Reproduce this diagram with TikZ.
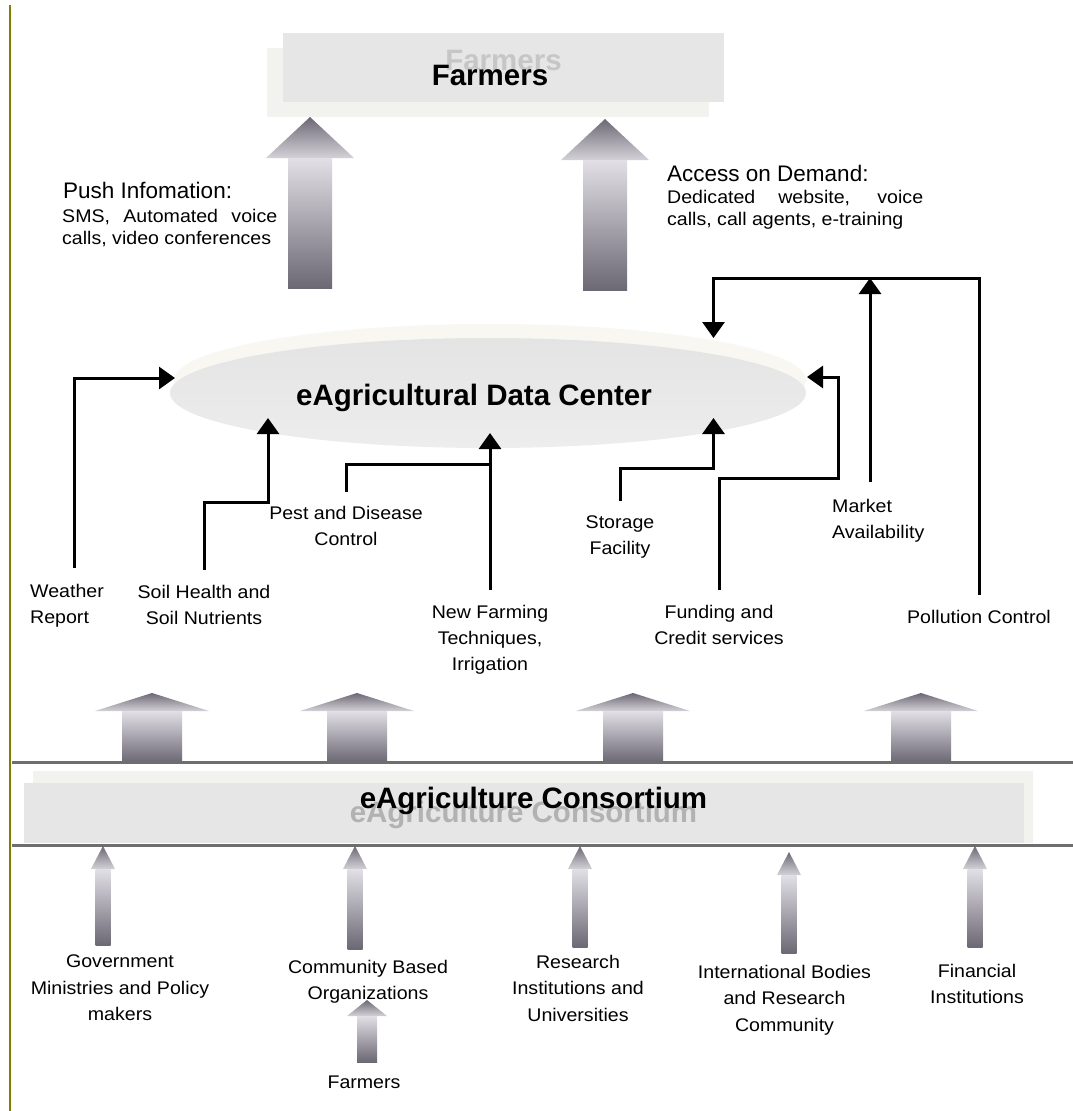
\documentclass[tikz,border=0pt]{standalone}
\usepackage{fontspec}
\setmainfont{Liberation Sans}
\newfontfamily\labfont{Liberation Sans}[FakeStretch=1.07]
\usetikzlibrary{arrows.meta,shapes.geometric}
\definecolor{olivel}{RGB}{128,128,0}
\definecolor{arrdark}{RGB}{108,104,116}
\definecolor{arrlight}{RGB}{226,224,230}
\definecolor{arrhead}{RGB}{212,210,216}
\definecolor{boxgray}{RGB}{230,230,230}
\definecolor{boxlight}{RGB}{242,243,239}
\definecolor{ellcream}{RGB}{249,247,242}
\definecolor{elltop}{RGB}{228,228,228}
\definecolor{ellbot}{RGB}{237,237,237}
\definecolor{rulegray}{RGB}{110,110,110}
% block arrow: x, tip y, head-base y, bottom y, head half width, shaft half width
\newcommand{\blkarrow}[6]{%
  \shade[top color=arrdark, bottom color=arrhead] (#1,-#2) -- (#1+#5,-#3) -- (#1-#5,-#3) -- cycle;
  \shade[top color=arrlight, middle color=white, bottom color=arrdark] (#1-#6,-#3) rectangle (#1+#6,-#4);
}
\begin{document}
\begin{tikzpicture}[x=1pt,y=1pt,
  conn/.style={line width=3pt, black, -{Triangle[length=16pt,width=22pt]}},
  title/.style={font=\fontsize{29.5}{34}\selectfont\bfseries, inner sep=0pt, anchor=base},
  ghost/.style={title, text=gray!45},
  headtxt/.style={font=\fontsize{22.5}{26}\selectfont, inner sep=0pt, anchor=base west},
  subtxt/.style={font={\labfont\fontsize{18.3}{22.5}\selectfont}, inner sep=0pt, anchor=north west, align=justify},
  lab/.style={font={\labfont\fontsize{18.3}{26}\selectfont}, inner sep=0pt, align=center, anchor=north},
  box/.style={inner sep=0pt, draw=none},
]
\useasboundingbox (0,0) rectangle (1073,-1111);
\fill[white] (0,0) rectangle (1073,-1111);

% left olive rule
\draw[olivel, line width=1.5pt] (10,-5) -- (10,-1111);

% ---------- Farmers (top) ----------
\node[box, fill=boxlight, minimum width=442pt, minimum height=69pt] (farmersBack) at (488,-82.5) {};
\node[box, fill=boxgray, minimum width=441pt, minimum height=69pt] (farmersBox) at (503.5,-67.5) {};
\node[ghost] (farmersGhost) at (503.5,-70) {Farmers};
\node[title] (farmersTop) at (490,-85.5) {Farmers};

% big up arrows to Farmers
\blkarrow{310}{117}{158}{288}{44}{22}
\blkarrow{605}{119}{160}{290}{44}{22}

\node[headtxt] (pushHead) at (63,-198) {Push Infomation:};
\node[subtxt, text width=215pt] (pushSub) at (62,-209) {SMS, Automated voice calls, video conferences};
\node[headtxt] (accHead) at (667,-181) {Access on Demand:};
\node[subtxt, text width=256pt] (accSub) at (667,-190) {Dedicated website, voice calls, call agents, e-training};

% ---------- Data center ----------
\node[ellipse, inner sep=0pt, minimum width=632pt, minimum height=112pt, fill=ellcream] (dcBack) at (490,-380) {};
\node[ellipse, inner sep=0pt, minimum width=636pt, minimum height=110pt, top color=elltop, bottom color=ellbot] (dc) at (488,-393) {};
\node[title] (dcText) at (474,-405) {eAgricultural Data Center};

\coordinate (dcW) at (175,-378);
\coordinate (dcS) at (268,-418);
\coordinate (pestJ) at (490,-464);
\coordinate (dcN) at (490,-433);
\coordinate (dcSt) at (713.5,-418);
\coordinate (dcF) at (807,-377);
\coordinate (mktJ) at (870,-278);
\coordinate (dcP) at (713.5,-338);

% labels (middle)
\node[lab, anchor=north west, align=left] (weather) at (30,-584) {Weather\\Report};
\node[lab] (soil) at (204,-585) {Soil Health and\\Soil Nutrients};
\node[lab] (pest) at (346,-506) {Pest and Disease\\Control};
\node[lab] (newfarm) at (490,-605) {New Farming\\Techniques,\\Irrigation};
\node[lab] (storage) at (620,-516) {Storage\\Facility};
\node[lab] (funding) at (719,-605) {Funding and\\Credit services};
\node[lab, anchor=north west, align=left] (market) at (832,-499) {Market\\Availability};
\node[lab] (pollution) at (979,-610) {Pollution Control};

% connectors
\draw[conn] ([xshift=44pt,yshift=16pt]weather.north west) |- (dcW);
\draw[conn] ([yshift=15pt]soil.north) -- ++(0,68) -| (dcS);
\draw[line width=3pt] ([yshift=14pt]pest.north) |- (pestJ);
\draw[conn] ([yshift=15pt]newfarm.north) -- (dcN);
\draw[conn] ([yshift=15pt]storage.north) -- ++(0,33) -| (dcSt);
\draw[conn] ([yshift=15pt]funding.north) -- ++(0,112) -- ++(119.5,0) -- ++(0,101) -- (dcF);
\draw[conn] ([xshift=38pt,yshift=17pt]market.north west) -- (mktJ);
\draw[conn] ([yshift=15pt]pollution.north) -- ++(0,317) -- ++(-265.5,0) -- (dcP);

% block arrows to data layer
\blkarrow{152}{693}{711}{762}{57}{30}
\blkarrow{357}{693}{711}{762}{57}{30}
\blkarrow{633}{693}{711}{762}{57}{30}
\blkarrow{921}{693}{711}{762}{57}{30}

% ---------- Consortium ----------
\node[box, fill=boxlight, minimum width=1000pt, minimum height=72pt] (consBack) at (533,-807) {};
\node[box, fill=boxgray, minimum width=1000pt, minimum height=60pt] (consBox) at (524,-813) {};
\node[ghost, text=gray!60] (consGhost) at (523.5,-822) {eAgriculture Consortium};
\node[title] (consText) at (533.5,-808) {eAgriculture Consortium};
\draw[rulegray, line width=3pt] (12,-762) -- (1073,-762);
\draw[rulegray, line width=3pt] (12,-845) -- (1073,-845);

% bottom arrows
\blkarrow{103}{846}{869}{945}{12}{7.5}
\blkarrow{355}{846}{869}{949}{12}{7.5}
\blkarrow{580}{846}{869}{947}{12}{7.5}
\blkarrow{789}{852}{875}{953}{12}{7.5}
\blkarrow{975}{846}{869}{947}{12}{7.5}
\blkarrow{367}{1000}{1016}{1062}{20}{10}

% bottom labels
\node[lab, font={\labfont\fontsize{18.3}{26.5}\selectfont}] (gov) at (120,-955) {Government\\Ministries and Policy\\makers};
\node[lab, font={\labfont\fontsize{18.3}{26.5}\selectfont}] (cbo) at (368,-960) {Community Based\\Organizations};
\node[lab, font={\labfont\fontsize{18.3}{26.5}\selectfont}] (research) at (578,-955) {Research\\Institutions and\\Universities};
\node[lab, font={\labfont\fontsize{18.3}{26.5}\selectfont}] (intl) at (784.5,-965) {International Bodies\\and Research\\Community};
\node[lab, font={\labfont\fontsize{18.3}{26.5}\selectfont}] (fin) at (977,-964) {Financial\\Institutions};
\node[lab, anchor=base] (farmersB) at (364,-1088) {Farmers};
\end{tikzpicture}
\end{document}
